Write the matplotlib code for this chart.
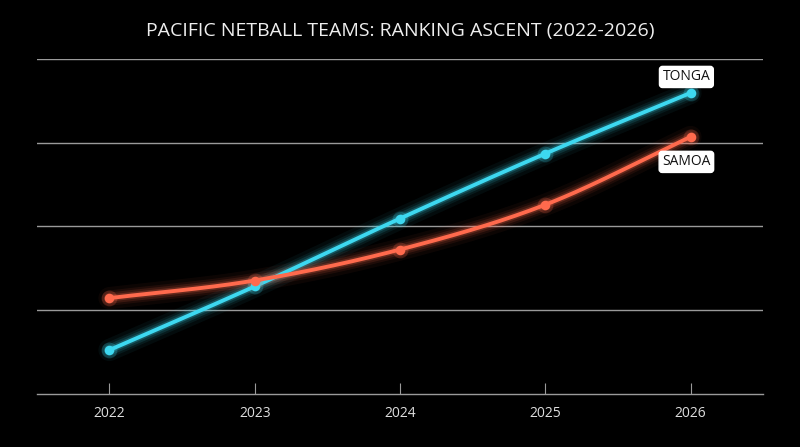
import numpy as np
import matplotlib
matplotlib.use("Agg")
import matplotlib.pyplot as plt

years = [2022, 2023, 2024, 2025, 2026]
tonga = [10.5, 25.7, 41.9, 57.4, 71.9]
samoa = [22.9, 27.1, 34.5, 45.2, 61.4]
grid_vals = [20, 40, 60, 80]

plt.rcParams['font.family'] = ['Open Sans', 'DejaVu Sans']


def monotone_curve(x, y, n=40):
    # smooth monotone cubic (like curveMonotoneX) just for drawing the line
    x = np.asarray(x, float)
    y = np.asarray(y, float)
    h = np.diff(x)
    d = np.diff(y) / h
    m = np.zeros_like(y)
    m[0], m[-1] = d[0], d[-1]
    for i in range(1, len(y) - 1):
        if d[i - 1] * d[i] <= 0:
            m[i] = 0
        else:
            m[i] = (d[i - 1] * h[i] + d[i] * h[i - 1]) / (h[i - 1] + h[i])
            m[i] = np.sign(m[i]) * min(abs(m[i]), 3 * min(abs(d[i - 1]), abs(d[i])))
    xs, ys = [], []
    for i in range(len(h)):
        t = np.linspace(0, 1, n)
        h00 = 2 * t**3 - 3 * t**2 + 1
        h10 = t**3 - 2 * t**2 + t
        h01 = -2 * t**3 + 3 * t**2
        h11 = t**3 - t**2
        xs.append(x[i] + t * h[i])
        ys.append(h00 * y[i] + h10 * h[i] * m[i] + h01 * y[i + 1] + h11 * h[i] * m[i + 1])
    return np.concatenate(xs), np.concatenate(ys)


fig = plt.figure(figsize=(8, 4.47), dpi=100, facecolor='black')
ax = fig.add_axes([0.046, 0.1186, 0.908, 0.7494], facecolor='black')

for v in grid_vals:
    ax.axhline(v, color='#9a9a9a', lw=1, zorder=1)

series = [(tonga, '#3dd8f0', 'TONGA', 11.5), (samoa, '#ff6a4d', 'SAMOA', -18)]
for vals, col, name, off in series:
    cx, cy = monotone_curve(years, vals)
    for lw, a in [(16, 0.05), (11, 0.08), (8, 0.13), (5, 0.22)]:
        ax.plot(cx, cy, color=col, lw=lw, alpha=a, solid_capstyle='round', zorder=2)
    ax.plot(cx, cy, color=col, lw=2.8, solid_capstyle='round', zorder=3)
    ax.scatter(years, vals, s=130, color=col, alpha=0.22, lw=0, zorder=3)
    ax.scatter(years, vals, s=48, color=col, lw=0, zorder=4)
    ax.annotate(name, (years[-1], vals[-1]), xytext=(-3, off),
                textcoords='offset points', ha='center', va='center',
                fontsize=10, color='#111111',
                bbox=dict(boxstyle='round,pad=0.22', fc='white', ec='white'),
                zorder=6)

ax.set_xlim(2021.5, 2026.5)
ax.set_ylim(0, 80)
ax.set_xticks(years)
ax.set_xticklabels([str(y) for y in years])
ax.set_yticks([])
for s in ['top', 'left', 'right']:
    ax.spines[s].set_visible(False)
ax.spines['bottom'].set_color('#9a9a9a')
ax.spines['bottom'].set_linewidth(1)
ax.tick_params(axis='x', direction='in', length=8, color='#9a9a9a',
               labelcolor='#dddddd', labelsize=10, pad=9)

fig.text(0.5, 0.93, 'PACIFIC NETBALL TEAMS: RANKING ASCENT (2022-2026)',
         ha='center', va='center', color='#eeeeee', fontsize=14)

fig.savefig('out.png', dpi=100, facecolor='black')
